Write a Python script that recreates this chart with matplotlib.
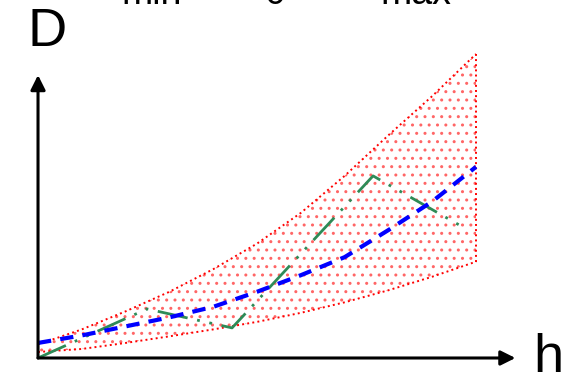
import numpy as np
import matplotlib.pyplot as plt

plt.rcParams['font.family'] = ['Liberation Sans', 'DejaVu Sans']
plt.rcParams['hatch.linewidth'] = 1.0

# (h in arbitrary units, D in arbitrary units)
h = [0, 1, 2, 3, 4, 5, 6, 7, 8, 9, 10]
d_max = [0.45, 0.95, 1.55, 2.2, 2.95, 3.8, 4.82, 6.05, 7.4, 8.7, 10.1]
d_min = [0.2, 0.3, 0.5, 0.72, 0.95, 1.2, 1.5, 1.85, 2.25, 2.7, 3.2]
d_mean = [0.5, 0.75, 1.05, 1.35, 1.7, 2.2, 2.75, 3.35, 4.25, 5.2, 6.35]

h_obs = [0, 2.49, 4.43, 7.65, 9.7]
d_obs = [0.0, 1.63, 1.0, 6.05, 4.35]

# subscripts left over from a cropped label row
top_labels = ["min", "0", "max"]
top_label_x = [2.6, 5.4, 8.63]

fig = plt.figure(figsize=(5.66, 3.75), dpi=100)
ax = fig.add_axes([0, 0, 1, 1])
ax.set_xlim(-0.868, 12.055)
ax.set_ylim(-0.565, 11.894)
ax.axis("off")

# envelope: dotted hatch + dotted border
ax.fill_between(h, d_min, d_max, facecolor="none", edgecolor=(1, 0.4, 0.4),
                hatch="..", linewidth=0)
ax.plot(h, d_max, color="red", linestyle=":", linewidth=1.4)
ax.plot(h, d_min, color="red", linestyle=":", linewidth=1.4)
ax.plot([h[-1], h[-1]], [d_min[-1], d_max[-1]], color="red", linestyle=":", linewidth=1.4)

ax.plot(h_obs, d_obs, color="#2e8b57", linewidth=2,
        linestyle=(0, (11, 3.5, 1, 3.5, 1, 3.5)))
ax.plot(h, d_mean, color="blue", linewidth=3, linestyle=(0, (3.2, 2.2)))

# axes with arrowheads
arrow = dict(arrowstyle="-|>", lw=2.2, color="black", mutation_scale=22,
             shrinkA=0, shrinkB=0)
ax.annotate("", xy=(10.9, 0), xytext=(0, 0), arrowprops=arrow)
ax.annotate("", xy=(0, 9.4), xytext=(0, 0), arrowprops=arrow)

ax.text(-0.25, 10.35, "D", fontsize=39, ha="left", va="baseline")
ax.text(11.3, -0.47, "h", fontsize=39, ha="left", va="baseline")

for lab, x in zip(top_labels, top_label_x):
    ax.text(x, 11.76, lab, fontsize=27, ha="center", va="baseline")

fig.savefig("out.png", dpi=100)
